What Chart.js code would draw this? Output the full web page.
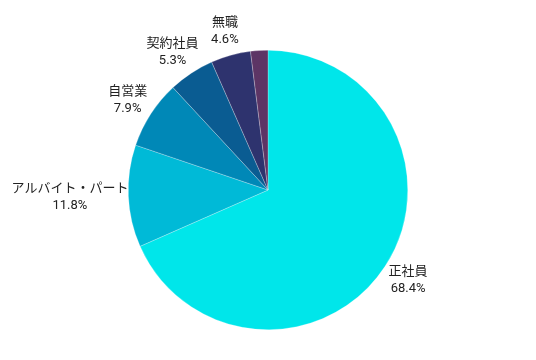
<!DOCTYPE html>
<html><head><meta charset="utf-8">
<script src="https://cdn.jsdelivr.net/npm/chart.js@4/dist/chart.umd.min.js"></script>
<style>html,body{margin:0;padding:0;background:#fff;}#wrap{width:536px;height:360px;}</style>
</head><body><div id="wrap"><canvas id="c" width="536" height="360"></canvas></div>
<script>
const categories = ["正社員", "アルバイト・パート", "自営業", "契約社員", "無職", "その他"];
const values = [68.4, 11.8, 7.9, 5.3, 4.6, 2.0];
const showLabel = [true, true, true, true, true, false];
const colors = ["#00E6EA", "#00BAD7", "#0088B7", "#0A5C92", "#2E336E", "#5D3565"];

const labelPlugin = {
  id: 'outLabels',
  afterDatasetsDraw(chart) {
    const ctx = chart.ctx;
    const meta = chart.getDatasetMeta(0);
    ctx.save();
    ctx.font = '13px Roboto, "Noto Sans CJK JP", sans-serif';
    ctx.fillStyle = '#222';
    ctx.textBaseline = 'middle';
    ctx.textAlign = 'center';
    const lh = 17;
    meta.data.forEach((arc, i) => {
      if (!showLabel[i]) return;
      const p = arc.getProps(['x','y','startAngle','endAngle','outerRadius'], true);
      const a = (p.startAngle + p.endAngle) / 2;
      const dx = Math.cos(a), dy = Math.sin(a);
      const lines = [categories[i], values[i].toFixed(1) + '%'];
      const w = Math.max(...lines.map(l => ctx.measureText(l).width));
      const h = lh * lines.length;
      const g = dx < -0.95 ? 0 : 8;
      const px = p.x + dx * (p.outerRadius + g);
      const py = p.y + dy * (p.outerRadius + g);
      const cx = px + dx * w / 2;
      const cy = py + dy * h / 2;
      lines.forEach((l, k) => {
        ctx.fillText(l, cx, cy - h / 2 + lh * (k + 0.5));
      });
    });
    ctx.restore();
  }
};

new Chart(document.getElementById('c'), {
  type: 'pie',
  data: {
    labels: categories,
    datasets: [{
      data: values,
      backgroundColor: colors,
      borderColor: 'rgba(255,255,255,0.5)',
      borderWidth: 0.5
    }]
  },
  options: {
    responsive: false,
    animation: false,
    layout: { padding: { top: 50, bottom: 30, left: 20, right: 20 } },
    plugins: { legend: { display: false }, tooltip: { enabled: false } }
  },
  plugins: [labelPlugin]
});
</script>
</body></html>
